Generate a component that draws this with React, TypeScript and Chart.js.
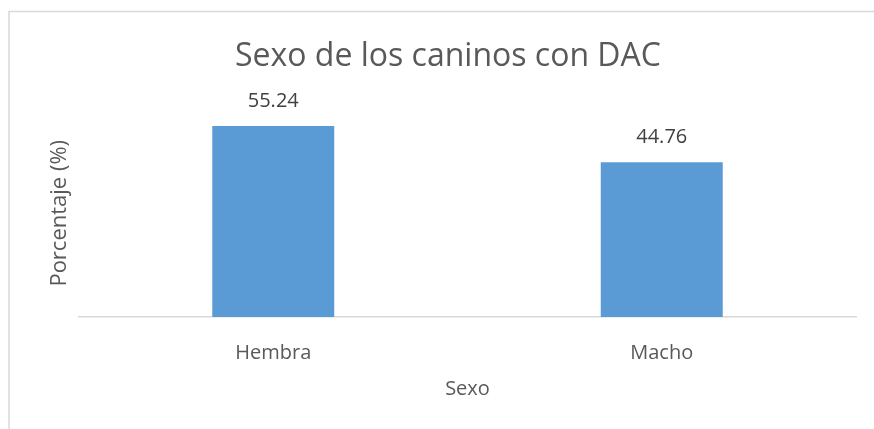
import React, { useEffect, useRef } from "react";
import { Chart, registerables } from "chart.js";

Chart.register(...registerables);

const categories = ["Hembra", "Macho"];
const values = [55.24, 44.76];
const chartTitle = "Sexo de los caninos con DAC";
const xTitle = "Sexo";
const yTitle = "Porcentaje (%)";

const FONT = "'Open Sans', 'Noto Sans', sans-serif";

export default function App() {
  const ref = useRef<HTMLCanvasElement>(null);
  useEffect(() => {
    if (!ref.current) return;
    const labelsPlugin = {
      id: "extras",
      afterDraw(chart: any) {
        const ctx = chart.ctx;
        ctx.save();
        // frame
        ctx.strokeStyle = "#d9d9d9";
        ctx.lineWidth = 1.5;
        ctx.beginPath();
        ctx.moveTo(9, 440);
        ctx.lineTo(9, 11.5);
        ctx.lineTo(880, 11.5);
        ctx.stroke();
        // title
        ctx.fillStyle = "#595959";
        ctx.font = `32px ${FONT}`;
        ctx.textAlign = "center";
        ctx.textBaseline = "middle";
        ctx.fillText(chartTitle, 448, 57);
        // data labels
        ctx.font = `20px ${FONT}`;
        ctx.fillStyle = "#404040";
        const meta = chart.getDatasetMeta(0);
        meta.data.forEach((bar: any, i: number) => {
          ctx.fillText(values[i].toFixed(2), bar.x, bar.y - 25);
        });
        ctx.restore();
      },
    };
    const chart = new Chart(ref.current, {
      type: "bar",
      data: {
        labels: categories,
        datasets: [
          {
            data: values,
            backgroundColor: "#5b9bd5",
            borderWidth: 0,
            barPercentage: 0.314,
            categoryPercentage: 1,
          },
        ],
      },
      options: {
        animation: false,
        responsive: false,
        maintainAspectRatio: false,
        layout: { padding: { top: 109.5, right: 18, left: 0, bottom: 24 } },
        plugins: { legend: { display: false }, tooltip: { enabled: false } },
        scales: {
          x: {
            grid: { display: false },
            border: { display: true, color: "#d9d9d9", width: 1.5 },
            ticks: { color: "#595959", font: { family: FONT, size: 20 }, padding: 16 },
            title: { display: true, text: xTitle, color: "#595959", font: { family: FONT, size: 20 }, padding: { top: 12 } },
            afterFit: (s: any) => { s.height = 429 - 317 - 24; },
          },
          y: {
            min: 0,
            max: 60,
            grid: { display: false },
            border: { display: false },
            ticks: { display: false },
            title: { display: true, text: yTitle, color: "#595959", font: { family: FONT, size: 22 }, padding: { top: 46.8 } },
            afterFit: (s: any) => { s.width = 79; },
          },
        },
      },
      plugins: [labelsPlugin],
    });
    return () => chart.destroy();
  }, []);
  return (
    <div style={{ position: "fixed", left: 0, top: 0, width: 874, height: 429, background: "#fff" }}>
      <canvas ref={ref} width={874} height={429} style={{ width: 874, height: 429, display: "block" }} />
    </div>
  );
}
